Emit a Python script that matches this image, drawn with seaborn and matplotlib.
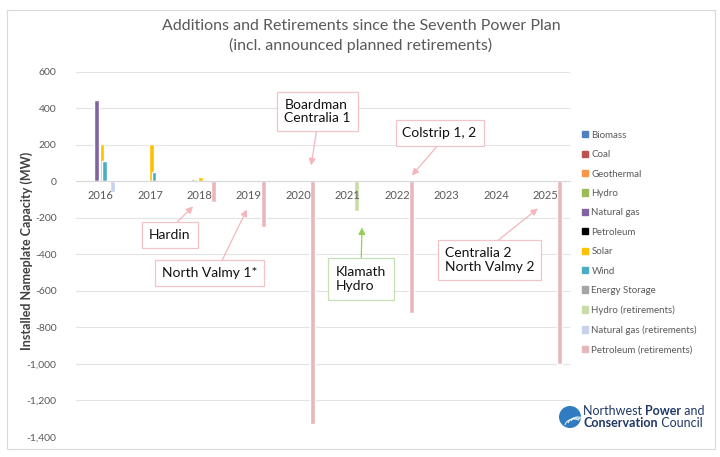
import matplotlib
matplotlib.use("Agg")
import matplotlib.pyplot as plt
import seaborn as sns
import pandas as pd
from matplotlib.patches import Rectangle, Ellipse, Arc
from matplotlib.offsetbox import TextArea, HPacker, VPacker, AnchoredOffsetbox
from matplotlib.ticker import FuncFormatter

# chart data (MW), one value per year
years = ["2016", "2017", "2018", "2019", "2020", "2021", "2022", "2023", "2024", "2025"]
biomass = [0, 0, 0, 0, 0, 0, 0, 0, 0, 0]
coal = [0, 0, 0, 0, 0, 0, 0, 0, 0, 0]
geothermal = [0, 0, 0, 0, 0, 0, 0, 0, 0, 0]
hydro = [0, 0, 15, 0, 0, 0, 0, 0, 0, 0]
natural_gas = [444, 0, 0, 0, 0, 0, 0, 0, 0, 0]
petroleum = [0, 5, 0, 0, 0, 0, 0, 0, 0, 0]
solar = [207, 205, 24, 0, 0, 0, 0, 0, 0, 0]
wind = [115, 51, 0, 0, 0, 0, 0, 0, 0, 0]
energy_storage = [0, 0, 0, 0, 0, 0, 0, 0, 0, 0]
hydro_ret = [0, 0, 0, 0, 0, -163, 0, 0, 0, 0]
natural_gas_ret = [-55, 0, 0, 0, 0, 0, 0, 0, 0, 0]
petroleum_ret = [0, 0, -115, -250, -1330, 0, -720, 0, 0, -1000]

series_names = ["Biomass", "Coal", "Geothermal", "Hydro", "Natural gas", "Petroleum",
                "Solar", "Wind", "Energy Storage", "Hydro (retirements)",
                "Natural gas (retirements)", "Petroleum (retirements)"]
series_values = [biomass, coal, geothermal, hydro, natural_gas, petroleum, solar, wind,
                 energy_storage, hydro_ret, natural_gas_ret, petroleum_ret]
colors = ["#4F81BD", "#C0504D", "#F79646", "#9BBB59", "#8064A2", "#000000",
          "#FFC000", "#4BACC6", "#A5A5A5", "#C9DCA6", "#C6D3EA", "#E8B7BA"]

rows = []
for name, vals in zip(series_names, series_values):
    for yr, v in zip(years, vals):
        rows.append({"Year": yr, "Series": name, "MW": v})
df = pd.DataFrame(rows)

sns.set_theme(style="white")
plt.rcParams['font.family'] = ['Lato', 'DejaVu Sans']

fig = plt.figure(figsize=(7.2, 4.57), dpi=100)
ax = fig.add_axes([76 / 720, 1 - 437 / 457, (570 - 76) / 720, (437 - 72) / 457])

sns.barplot(data=df, x="Year", y="MW", hue="Series", hue_order=series_names,
            order=years, palette=colors, width=0.63, saturation=1, ax=ax,
            legend=False, zorder=2)

# make the bars a bit thicker than the dodge slots, like the original
for p in ax.patches:
    cx = p.get_x() + p.get_width() / 2
    p.set_width(0.1)
    p.set_x(cx - 0.05)

ax.set_xlim(-0.5, 9.5)
ax.set_ylim(-1400, 600)
ax.set_yticks(range(-1400, 601, 200))
ax.yaxis.set_major_formatter(FuncFormatter(lambda v, _: f"{int(v):,}"))
ax.grid(axis="y", color="#E3E3E3", linewidth=0.8, zorder=0)
ax.set_axisbelow(True)
ax.xaxis.set_zorder(3)  # year labels stay readable over the bars
for s in ["top", "right", "left"]:
    ax.spines[s].set_visible(False)
ax.spines["bottom"].set_position(("data", 0))
ax.spines["bottom"].set_color("#D9D9D9")
ax.spines["bottom"].set_linewidth(0.8)
ax.tick_params(axis="x", length=0, pad=6, labelsize=8, labelcolor="#595959")
ax.tick_params(axis="y", length=0, pad=14, labelsize=7.5, labelcolor="#595959")
ax.set_xlabel("")
ax.set_ylabel("Installed Nameplate Capacity (MW)", fontsize=9, fontweight="bold",
              color="#404040")
ax.yaxis.set_label_coords(-0.088, 0.51)

fig.text(361 / 720, 1 - 36 / 457,
         "Additions and Retirements since the Seventh Power Plan\n(incl. announced planned retirements)",
         ha="center", va="center", fontsize=11.5, color="#595959", linespacing=1.4)

# callout boxes
pink = "#F2C4C8"
arrow_pink = "#F4B6BD"
callouts = [
    ("Boardman\nCentralia 1", (4.39, 384), (4.26, 88), (0.5, 0)),
    ("Colstrip 1, 2", (6.86, 266), (6.30, 33), (0.55, 0)),
    ("Hardin", (1.40, -293), (1.87, -137), (0.5, 1)),
    ("North Valmy 1*", (2.20, -501), (2.96, -153), (0.6, 1)),
    ("Centralia 2\nNorth Valmy 2", (7.87, -430), (8.85, -148), (0.5, 1)),
]
for txt, xyt, xy, rel in callouts:
    ax.annotate(txt, xy=xy, xytext=xyt, ha="center", multialignment="left",
                va="center", fontsize=10, color="#111111", linespacing=1.15,
                bbox=dict(boxstyle="square,pad=0.5", fc="white", ec=pink, lw=0.9),
                arrowprops=dict(arrowstyle="-|>", color=arrow_pink, lw=0.9,
                                mutation_scale=10, shrinkA=0, shrinkB=0, relpos=rel),
                zorder=5)
ax.annotate("Klamath\nHydro", xy=(5.29, -252), xytext=(5.27, -534), ha="center",
            multialignment="left", va="center", fontsize=10, color="#111111",
            linespacing=1.15,
            bbox=dict(boxstyle="square,pad=0.6", fc="white", ec="#C5E0B4", lw=0.9),
            arrowprops=dict(arrowstyle="-|>", color="#92D050", lw=0.9,
                            mutation_scale=10, shrinkA=0, shrinkB=0, relpos=(0.5, 1)),
            zorder=5)

# legend
handles = [Rectangle((0, 0), 1, 1, color=c) for c in colors]
leg = fig.legend(handles, series_names, loc="upper left",
                 bbox_to_anchor=(573 / 720, 1 - 122 / 457), frameon=False,
                 fontsize=7, handlelength=0.6, handleheight=0.6, handletextpad=0.4,
                 labelspacing=1.07)
for t in leg.get_texts():
    t.set_color("#595959")

# outer border
fig.patches.append(Rectangle((7 / 720, 1 - 449 / 457), 708 / 720, 439 / 457,
                             transform=fig.transFigure, fill=False,
                             ec="#D9D9D9", lw=0.8))

# council logo
lc = (570 / 720, 1 - 417 / 457)
fig.patches.append(Ellipse(lc, 22 / 720, 22 / 457, transform=fig.transFigure,
                           fc="#2F7DC0", ec="none"))
for k in range(3):
    fig.patches.append(Arc((lc[0] + (4 + 2 * k) / 720, lc[1] - (9 - 2 * k) / 457),
                           (18 - 2 * k) / 720, (14 - 2 * k) / 457, theta1=60, theta2=170,
                           transform=fig.transFigure, color="white", lw=0.7))
navy = "#1F3864"
fs = 9
line1 = HPacker(children=[TextArea("Northwest ", textprops=dict(color=navy, fontsize=fs)),
                          TextArea("Power", textprops=dict(color=navy, fontsize=fs, fontweight="bold")),
                          TextArea(" and", textprops=dict(color=navy, fontsize=fs))],
                align="baseline", pad=0, sep=0)
line2 = HPacker(children=[TextArea("Conservation", textprops=dict(color=navy, fontsize=fs, fontweight="bold")),
                          TextArea(" Council", textprops=dict(color=navy, fontsize=fs))],
                align="baseline", pad=0, sep=0)
block = VPacker(children=[line1, line2], align="left", pad=0, sep=0)
anch = AnchoredOffsetbox(loc="center left", child=block, frameon=False, pad=0,
                         bbox_to_anchor=(583 / 720, 1 - 417 / 457),
                         bbox_transform=fig.transFigure, borderpad=0)
fig.add_artist(anch)

fig.savefig("out.png", dpi=100)
plt.close(fig)
